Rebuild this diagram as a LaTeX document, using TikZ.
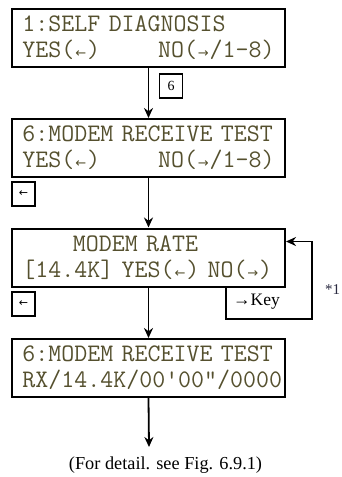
\documentclass[tikz,border=0pt]{standalone}
\usepackage{fontspec}
\setmainfont{Liberation Serif}
\newfontfamily\lcdfont{Latin Modern Mono}
\newfontfamily\arrowfont{DejaVu Sans}
\newcommand{\lar}{\makebox[12.6pt]{\arrowfont\fontsize{13}{13}\selectfont ←}}
\newcommand{\rar}{\makebox[12.6pt]{\arrowfont\fontsize{13}{13}\selectfont →}}
\usetikzlibrary{arrows.meta}
\definecolor{lcdtext}{HTML}{55502E}
\definecolor{capblue}{HTML}{2A2A40}
\tikzset{
  lcdbox/.style={draw, line width=2pt, minimum height=58pt,
    inner xsep=10.5pt, inner ysep=0pt, text width=252pt, align=left,
    font=\lcdfont\fontsize{25.2}{26}\selectfont, text=lcdtext},
  keybox/.style={draw, line width=1.8pt, minimum width=23pt, minimum height=24pt,
    inner sep=0pt, font=\fontsize{14}{14}\selectfont},
  flow/.style={line width=1.8pt, -{Stealth[length=10pt,width=9pt]}},
}
\begin{document}
\begin{tikzpicture}[x=1pt,y=-1pt]
\useasboundingbox (0,0) rectangle (341,477);
\node[lcdbox] (b1) at (148.5,38) {1:SELF DIAGNOSIS\\YES(\lar)\hfill NO(\rar/1-8)};
\node[lcdbox] (b2) at (148.5,148) {6:MODEM RECEIVE TEST\\YES(\lar)\hfill NO(\rar/1-8)};
\node[lcdbox] (b3) at (148.5,257.5) {\hspace*{50.4pt}MODEM RATE\\{[}14.4K] YES(\lar) NO(\rar)};
\node[lcdbox] (b4) at (148.5,368) {6:MODEM RECEIVE TEST\\RX/14.4K/00'00"/0000};
\node[keybox] (k6) at (171,86) {6};
\node[keybox] (ka) at (23.5,194) {\arrowfont\fontsize{11}{11}\selectfont ←};
\node[keybox] (kb) at (23.5,304) {\arrowfont\fontsize{11}{11}\selectfont ←};
\node[font=\fontsize{17.5}{17.5}\selectfont, anchor=west, inner sep=0pt] (kt) at (233,302) {→Key};
\node[font=\fontsize{15}{15}\selectfont, anchor=west, inner sep=0pt, text=capblue] (n1) at (325,290) {*1};
\node[font=\fontsize{18.3}{18.3}\selectfont, inner sep=0pt] (cap) at (165.5,465) {(For detail. see Fig. 6.9.1)};
\coordinate (end) at (149,447);
\draw[flow] (b1.south) -- (b2.north);
\draw[flow] (b2.south) -- (b3.north);
\draw[flow] (b3.south) -- (b4.north);
\draw[flow] (b4.south) -- (end);
\coordinate (l1) at ([xshift=215pt]b3.south west);
\coordinate (l2) at (312,319);
\coordinate (l3) at ([yshift=-14pt]b3.north east);
\draw[flow] (l1) |- (l2) |- (l3);
\end{tikzpicture}
\end{document}
